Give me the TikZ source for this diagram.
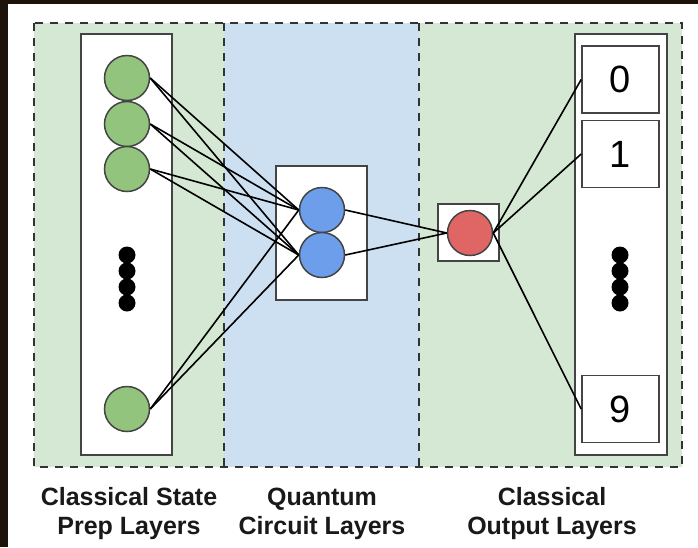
\documentclass[tikz,border=0pt]{standalone}
\usepackage{fontspec}
\setmainfont{Liberation Sans}
\definecolor{prepgreen}{HTML}{D5E8D4}
\definecolor{circblue}{HTML}{CDE0F2}
\definecolor{neurgreen}{HTML}{93C47D}
\definecolor{qubitblue}{HTML}{6D9EEB}
\definecolor{outred}{HTML}{E06666}
\definecolor{boxgrey}{HTML}{444444}
\begin{document}
\begin{tikzpicture}[x=1pt,y=-1pt]
        \tikzstyle{neuron}=[circle,line width=1.5pt,draw=boxgrey,minimum size=45pt,inner sep=0pt]
        \tikzstyle{layer}=[rectangle,line width=1.6pt,draw=boxgrey,fill=white,inner sep=0pt]
        \tikzstyle{digit}=[layer,minimum width=77pt,minimum height=67pt,font=\fontsize{38}{40}\selectfont]
        \tikzstyle{dot}=[circle,fill=black,minimum size=17pt,inner sep=0pt]
        \tikzstyle{edge}=[draw,line width=1.6pt,black]
        \tikzstyle{border}=[line width=2pt,black!80,dash pattern=on 8pt off 7pt]
        \tikzstyle{caption}=[align=center,font=\fontsize{25}{29}\selectfont\bfseries,text=black!90]
        \useasboundingbox (0,0) rectangle (698,547);
        % backdrop
        \fill[black!85!brown] (0,0) rectangle (698,547);
        \fill[white] (8,4) rectangle (698,547);
        % layer regions
        \fill[prepgreen] (34,23) rectangle (224,467);
        \fill[circblue] (224,23) rectangle (419,467);
        \fill[prepgreen] (419,23) rectangle (682,467);
        \draw[border] (34,23) rectangle (682,467);
        \draw[border] (224,23) -- (224,467);
        \draw[border] (419,23) -- (419,467);
       \begin{scope}
         % boxes
         \node [layer,minimum width=91pt,minimum height=421pt] (prep) at (126.5,244.5) {};
         \node [layer,minimum width=91pt,minimum height=134pt] (circ) at (321.5,233) {};
         \node [layer,minimum width=61pt,minimum height=57pt] (meas) at (468.5,232.5) {};
         \node [layer,minimum width=92pt,minimum height=421pt] (outp) at (621,244.5) {};
         % classical inputs
         \node [neuron,fill=neurgreen] (g1) at (127,78) {};
         \node [neuron,fill=neurgreen] (g2) at (127,124) {};
         \node [neuron,fill=neurgreen] (g3) at (127,169) {};
         \node [neuron,fill=neurgreen] (g4) at (127,409) {};
         \node [dot] (d1) at (127,255) {};
         \node [dot] (d2) at (127,271) {};
         \node [dot] (d3) at (127,287) {};
         \node [dot] (d4) at (127,303) {};
         % qubits
         \node [neuron,fill=qubitblue] (q1) at (322,210) {};
         \node [neuron,fill=qubitblue] (q2) at (322,255) {};
         \node [neuron,fill=outred] (r) at (470,233) {};
         % outputs
         \node [digit] (o0) at (620.5,79.5) {0};
         \node [digit] (o1) at (620.5,154) {1};
         \node [digit] (o9) at (620.5,409) {9};
         \node [dot] (e1) at (620,255) {};
         \node [dot] (e2) at (620,271) {};
         \node [dot] (e3) at (620,287) {};
         \node [dot] (e4) at (620,303) {};
         % connections
         \path[edge] (g1.east) edge (q1.west);
         \path[edge] (g1.east) edge (q2.west);
         \path[edge] (g2.east) edge (q1.west);
         \path[edge] (g2.east) edge (q2.west);
         \path[edge] (g3.east) edge (q1.west);
         \path[edge] (g3.east) edge (q2.west);
         \path[edge] (g4.east) edge (q1.west);
         \path[edge] (g4.east) edge (q2.west);
         \path[edge] (q1.east) edge (r.west);
         \path[edge] (q2.east) edge (r.west);
         \path[edge] (r.east) edge (o0.west);
         \path[edge] (r.east) edge (o1.west);
         \path[edge] (r.east) edge (o9.west);
        \end{scope}
        % captions
        \node [caption] (c1) at (129,514) {Classical State\\Prep Layers};
        \node [caption] (c2) at (322,514) {Quantum\\Circuit Layers};
        \node [caption] (c3) at (552,514) {Classical\\Output Layers};
\end{tikzpicture}
\end{document}
